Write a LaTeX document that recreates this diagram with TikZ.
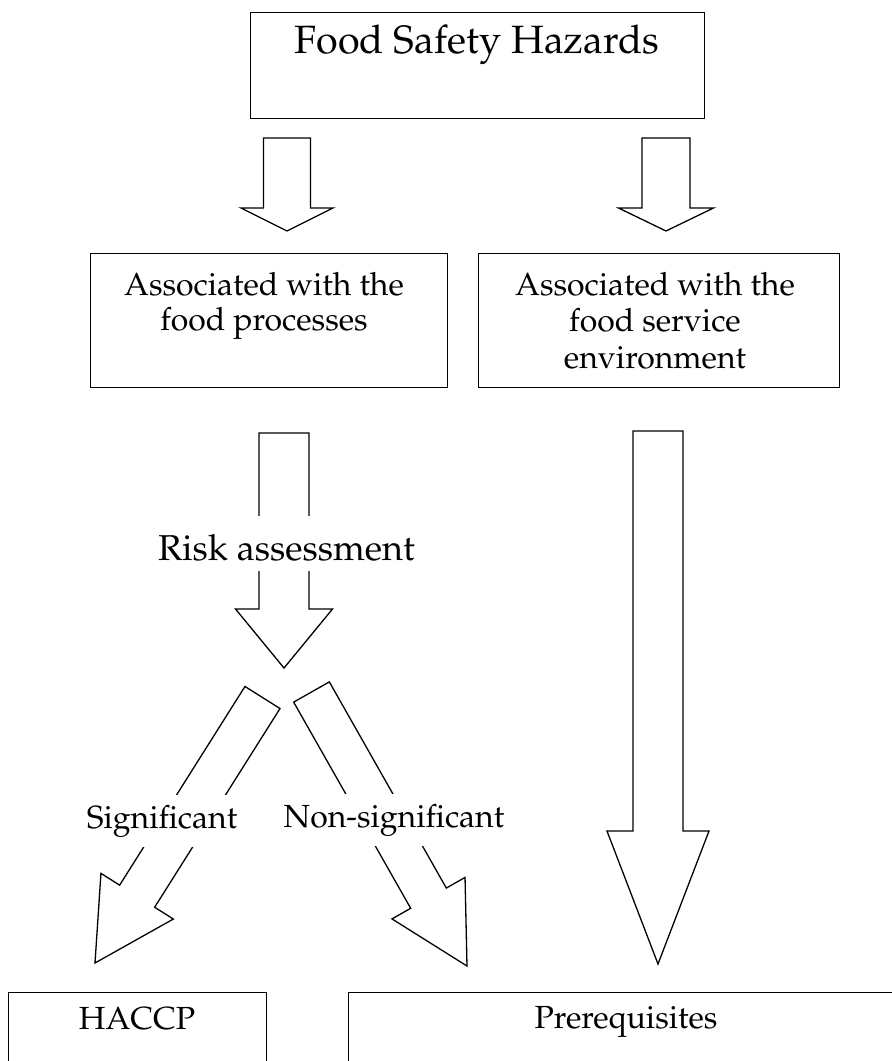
\documentclass[tikz,border=0pt]{standalone}
\usepackage[T1]{fontenc}
\usepackage{mathpazo}
\usetikzlibrary{calc}
\tikzset{
  box/.style={draw, line width=1.3pt, inner sep=0pt, anchor=north west},
  blockarrow/.style={draw, line width=1.3pt, fill=white, line join=miter},
  lbl/.style={font=\fontsize{32}{35}\selectfont, anchor=base, inner sep=0pt},
  cut/.style={fill=white, inner xsep=3pt, inner ysep=10pt}
}
% #1 start (tail centre), #2 tip, #3 half shaft width, #4 half head width, #5 head length
\newcommand{\blockarr}[5]{%
  \coordinate (hb) at ($(#2)!#5!(#1)$);
  \draw[blockarrow] ($(#1)!#3!90:(#2)$) -- ($(hb)!#3!90:(#2)$) -- ($(hb)!#4!90:(#2)$)
     -- (#2) -- ($(hb)!#4!-90:(#2)$) -- ($(hb)!#3!-90:(#2)$) -- ($(#1)!#3!-90:(#2)$) -- cycle;
}
\begin{document}
\begin{tikzpicture}[x=1pt, y=-1pt]
\useasboundingbox (0,0) rectangle (892,1061);
\clip (0,0) rectangle (892,1061);

% boxes
\node[box, minimum width=454pt, minimum height=106pt] (top) at (250,12) {};
\node[box, minimum width=357pt, minimum height=134pt] (proc) at (90,253) {};
\node[box, minimum width=361pt, minimum height=134pt] (env) at (478,253) {};
\node[box, minimum width=258pt, minimum height=90pt] (haccp) at (8,992) {};
\node[box, minimum width=560pt, minimum height=90pt] (prereq) at (348,992) {};

% texts in boxes
\node[lbl, font=\fontsize{39.5}{44}\selectfont] (ttop) at (477,53) {Food Safety Hazards};
\node[lbl] (tp1) at (264,295) {Associated with the};
\node[lbl] (tp2) at (264,330) {food processes};
\node[lbl] (te1) at (655,295) {Associated with the};
\node[lbl] (te2) at (655,331) {food service};
\node[lbl] (te3) at (655,368) {environment};
\node[lbl] (th) at (137,1029) {HACCP};
\node[lbl] (tpr) at (626,1028) {Prerequisites};

% arrow end points
\coordinate (a1s) at (287,138);   \coordinate (a1e) at (287,231);
\coordinate (a2s) at (666,138);   \coordinate (a2e) at (666,231);
\coordinate (a3s) at (284,433);   \coordinate (a3e) at (284,668);
\coordinate (a4s) at (658,431);   \coordinate (a4e) at (658,964);
\coordinate (a5s) at (262.5,697.5); \coordinate (a5e) at (95,963);
\coordinate (a6s) at (311.5,692); \coordinate (a6e) at (467,966);

\blockarr{a1s}{a1e}{23.5pt}{46pt}{23pt}
\blockarr{a2s}{a2e}{24pt}{47.5pt}{23pt}
\blockarr{a3s}{a3e}{25pt}{48.5pt}{59pt}
\blockarr{a4s}{a4e}{25pt}{51pt}{133pt}
\blockarr{a5s}{a5e}{20.7pt}{42.8pt}{79pt}
\blockarr{a6s}{a6e}{20.5pt}{42pt}{78pt}

% labels on arrows
\node[lbl, cut, font=\fontsize{36}{40}\selectfont, text height=34pt, text depth=1pt] (risk) at (286.5,560) {Risk assessment};
\node[lbl, cut] (sig) at (162,828) {Significant};
\node[lbl, cut] (nonsig) at (394,827) {Non-significant};
\end{tikzpicture}
\end{document}
